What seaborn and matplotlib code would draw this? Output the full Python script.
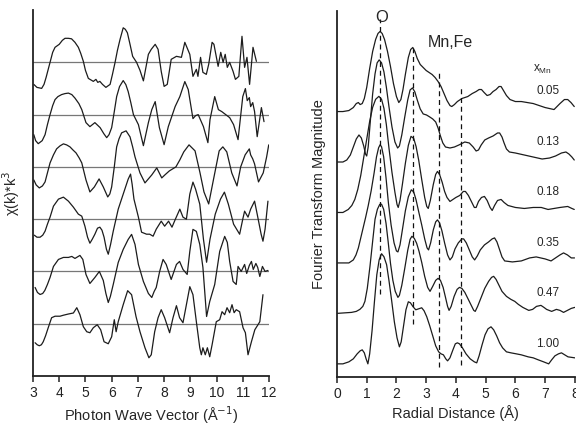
import numpy as np
import pandas as pd
import seaborn as sns
import matplotlib.pyplot as plt

# Mn fraction of each sample, top trace first
x_mn = ["0.05", "0.13", "0.18", "0.35", "0.47", "1.00"]

# chi(k)*k^3 traces, (k, amplitude) pairs, arbitrary units
chi_005 = [(3.03,-22),(3.15,-25),(3.33,-26),(3.42,-22),(3.5,-15),(3.65,0),(3.75,10),(3.84,15),(4.0,18),(4.12,22),
           (4.22,24),(4.35,24),(4.47,23.5),(4.6,20),(4.73,15),(4.82,9),(4.92,1),(5.0,-8),(5.11,-16),(5.3,-19),
           (5.4,-17),(5.47,-20),(5.55,-19),(5.65,-22),(5.78,-25),(5.94,-22),(6.03,-12),(6.13,0),(6.22,12),
           (6.32,23),(6.44,34.5),(6.52,33),(6.6,29.5),(6.7,18),(6.8,6),(6.95,0),(7.08,-8),(7.21,-18.5),(7.4,8),
           (7.51,13),(7.66,18),(7.77,13),(7.89,-9),(8.0,-24),(8.12,-22),(8.27,3),(8.47,6),(8.66,5),(8.79,20),
           (8.98,8),(9.1,-14),(9.23,-7),(9.29,-14),(9.39,5),(9.48,-10),(9.61,-12),(9.7,-2),(9.83,20),(9.9,18),
           (10.06,-4),(10.16,10),(10.25,0),(10.33,8),(10.41,-5),(10.5,0),(10.63,-9),(10.72,-17),(10.85,-14),
           (10.97,26),(11.07,-5),(11.16,5),(11.26,-22),(11.39,15),(11.52,1)]
chi_013 = [(3.03,-20),(3.1,-26),(3.2,-29),(3.35,-26),(3.46,-20),(3.55,-10),(3.65,0),(3.75,9),(3.84,15),(3.95,18),
           (4.09,20),(4.22,21),(4.35,21.5),(4.48,20),(4.6,16.5),(4.75,11),(4.86,5),(5.02,-8),(5.17,-12),(5.36,-8),
           (5.56,-13),(5.7,-19),(5.81,-23),(5.9,-20),(6.0,-13),(6.1,3),(6.19,18),(6.3,28),(6.44,34),(6.54,30),
           (6.63,23),(6.73,12),(6.83,0),(7.02,-10),(7.21,-31),(7.4,-8),(7.53,5),(7.66,13),(7.82,-13),(8.0,-30),
           (8.16,-12),(8.42,8),(8.6,18),(8.79,33),(8.92,25),(9.1,-4),(9.2,-1),(9.3,0),(9.5,-12),(9.67,-28),
           (9.75,-5),(9.93,18),(10.07,5),(10.2,3),(10.35,0),(10.5,-3),(10.65,-10),(10.82,-25),(11.0,18),
           (11.1,26),(11.17,14),(11.25,17),(11.3,8),(11.38,12),(11.45,3),(11.55,-22),(11.71,7),(11.81,-7)]
chi_018 = [(3.03,-13),(3.12,-18),(3.24,-21),(3.36,-19),(3.46,-15),(3.55,-6),(3.65,4),(3.78,12),(3.9,18),(4.03,21),
           (4.16,23),(4.28,22),(4.41,20),(4.52,17),(4.64,14),(4.76,9),(4.86,4),(5.02,-13),(5.17,-25),(5.34,-20),
           (5.52,-12),(5.68,-20),(5.85,-30),(5.93,-27),(6.0,-20),(6.1,0),(6.19,20),(6.28,28),(6.38,34),(6.55,36),
           (6.7,30),(6.8,20),(6.89,10),(7.08,-6),(7.27,-16),(7.53,-8),(7.72,-1),(7.91,-11),(8.03,-8),(8.2,-4),
           (8.45,0),(8.6,7),(8.75,15),(8.95,22),(9.18,16),(9.37,-6),(9.52,-25),(9.7,-37),(9.88,-13),(10.1,16),
           (10.24,20),(10.39,15),(10.58,-6),(10.78,-19),(10.92,0),(11.09,12),(11.25,18),(11.3,12),(11.38,8),
           (11.45,3),(11.6,-15),(11.78,-6),(11.91,10),(11.99,22)]
chi_035 = [(3.05,-16),(3.15,-18),(3.27,-18),(3.37,-16),(3.46,-12),(3.55,-5),(3.65,2),(3.78,13),(3.97,20),(4.16,22),
           (4.35,18),(4.54,12),(4.73,5),(4.86,3),(4.98,-7),(5.08,-18),(5.17,-24),(5.26,-20),(5.36,-15),(5.46,-9),
           (5.55,-8),(5.63,-11),(5.71,-18),(5.8,-30),(5.87,-35),(5.96,-25),(6.06,-12),(6.25,10),(6.44,25),
           (6.63,40),(6.72,45),(6.78,35),(6.85,20),(7.02,2),(7.14,-13),(7.33,-15),(7.45,-15),(7.58,-17),(7.7,-10),
           (7.89,-2),(8.02,-7),(8.17,-2),(8.3,-8),(8.43,0),(8.6,10),(8.72,2),(8.85,0),(8.98,25),(9.1,37),
           (9.2,30),(9.36,15),(9.5,-20),(9.62,-43),(9.75,-20),(9.95,5),(10.15,20),(10.3,27),(10.45,15),
           (10.65,-5),(10.88,-15),(11.0,0),(11.07,8),(11.2,2),(11.3,10),(11.45,18),(11.55,5),(11.7,-15),
           (11.77,-22),(11.85,-10),(11.96,18)]
chi_047 = [(3.08,-16),(3.17,-21),(3.27,-23),(3.37,-22),(3.45,-19),(3.55,-13),(3.65,-6),(3.78,5),(3.97,12),
           (4.16,14),(4.35,14),(4.48,15),(4.6,13),(4.79,16),(4.9,12),(5.02,-3),(5.17,-12),(5.36,-6),(5.53,0),
           (5.68,-9),(5.78,-22),(5.87,-31),(5.95,-25),(6.06,-13),(6.25,9),(6.44,22),(6.63,32),(6.76,37),
           (6.89,27),(7.02,7),(7.21,-10),(7.4,-22),(7.53,-26),(7.62,-20),(7.7,-16),(7.83,0),(7.96,12),(8.08,7),
           (8.27,-8),(8.47,7),(8.59,10),(8.72,2),(8.88,-3),(8.98,20),(9.1,42),(9.23,40),(9.36,27),(9.48,4),
           (9.62,-45),(9.74,-30),(9.93,-13),(10.12,20),(10.31,35),(10.41,29),(10.5,10),(10.63,-10),(10.75,-13),
           (10.82,5),(10.94,0),(11.07,7),(11.15,-2),(11.25,6),(11.33,10),(11.4,2),(11.5,8),(11.57,4),(11.65,-5),
           (11.75,5),(11.85,0),(11.96,1)]
chi_100 = [(3.08,-19),(3.16,-21),(3.24,-22),(3.32,-21),(3.39,-18),(3.48,-12),(3.58,-4),(3.71,6),(3.84,7.5),
           (4.03,7.5),(4.16,8.5),(4.35,9.7),(4.54,10.7),(4.67,16),(4.79,9),(4.92,-3),(5.05,-8),(5.17,-9),
           (5.3,-4),(5.45,-1),(5.58,-6),(5.71,-18),(5.87,-20),(6.0,-13),(6.1,4),(6.17,-8),(6.25,2),(6.44,19),
           (6.61,33),(6.76,29),(6.93,7),(7.08,-8),(7.27,-24),(7.42,-34),(7.51,-31),(7.64,-8),(7.77,6),(7.89,14),
           (8.02,6),(8.21,-9),(8.34,6),(8.47,18),(8.59,6),(8.72,1),(8.85,19),(8.98,37),(9.1,29),(9.23,2),
           (9.36,-24),(9.42,-31),(9.48,-24),(9.57,-31),(9.65,-24),(9.74,-33),(9.83,-21),(9.99,2),(10.12,4),
           (10.21,12),(10.31,9),(10.4,16),(10.5,11),(10.59,19),(10.67,11),(10.75,14),(10.88,12),(11.01,-4),
           (11.1,-9),(11.2,-31),(11.33,-18),(11.46,-6),(11.58,-1),(11.65,2),(11.77,29)]

# Fourier transform magnitude, (R, magnitude) pairs, arbitrary units
ft_005 = [(0,0),(0.2,0),(0.4,1),(0.55,4),(0.65,8),(0.72,9),(0.78,7),(0.85,8),(0.92,13),(1.0,24),(1.1,43),(1.2,60),
          (1.3,72),(1.38,78),(1.45,80),(1.52,78),(1.6,72),(1.7,60),(1.8,45),(1.9,28),(2.0,15),(2.08,9),(2.15,12),
          (2.22,22),(2.3,37),(2.4,54),(2.48,62),(2.55,64),(2.62,60),(2.7,53),(2.8,47),(2.9,44),(3.0,41),(3.1,39),
          (3.2,37),(3.3,34),(3.4,30),(3.5,25),(3.6,18),(3.7,11),(3.8,6),(3.86,5),(3.95,7),(4.05,10),(4.2,13),
          (4.4,15),(4.55,18),(4.68,20),(4.78,22),(4.86,22),(4.95,19),(5.05,16),(5.15,17),(5.25,20),(5.35,22),
          (5.45,25),(5.52,25),(5.6,21),(5.7,16),(5.82,12),(6.0,10),(6.2,10),(6.4,9),(6.6,8),(6.8,6),(7.0,4),
          (7.15,3),(7.3,2),(7.4,5),(7.5,8),(7.65,12),(7.76,12),(7.87,9),(7.98,5)]
ft_013 = [(0,0),(0.2,0),(0.33,2),(0.45,7),(0.55,15),(0.65,23),(0.74,27),(0.82,24),(0.9,16),(0.96,8),(1.0,6),
          (1.05,15),(1.12,40),(1.2,68),(1.28,88),(1.35,99),(1.42,102),(1.5,99),(1.58,90),(1.66,75),(1.75,55),
          (1.85,35),(1.95,20),(2.04,14),(2.1,16),(2.18,27),(2.28,45),(2.38,62),(2.46,72),(2.54,74),(2.62,70),
          (2.7,62),(2.8,53),(2.9,48),(3.01,47),(3.12,45),(3.22,43),(3.32,40),(3.4,34),(3.48,26),(3.56,19),
          (3.65,15),(3.8,14),(3.95,15),(4.1,17),(4.3,20),(4.45,19),(4.58,15),(4.68,11),(4.76,12),(4.85,17),
          (4.97,22),(5.1,24),(5.25,26),(5.4,29),(5.47,29),(5.55,25),(5.62,19),(5.7,13),(5.8,10),(6.0,9),
          (6.3,7),(6.6,5),(6.9,3),(7.15,4),(7.35,6),(7.55,9),(7.7,10),(7.8,8),(7.9,5),(7.98,2)]
ft_018 = [(0,0),(0.2,0),(0.38,3),(0.5,7),(0.6,13),(0.7,23),(0.8,37),(0.9,55),(1.0,73),(1.1,91),(1.2,105),
          (1.3,113),(1.41,116),(1.5,113),(1.58,104),(1.66,88),(1.75,64),(1.85,40),(1.95,20),(2.02,8),(2.06,5),
          (2.12,12),(2.2,28),(2.3,49),(2.4,67),(2.49,76),(2.58,74),(2.66,66),(2.75,52),(2.85,33),(2.95,15),
          (3.02,6),(3.07,4),(3.14,12),(3.24,28),(3.32,38),(3.38,41),(3.45,38),(3.54,30),(3.62,21),(3.7,15),
          (3.8,11),(3.9,13),(4.0,15),(4.13,17),(4.25,21),(4.32,21),(4.42,17),(4.52,11),(4.62,5),(4.68,5),
          (4.76,11),(4.86,15),(4.96,16),(5.05,12),(5.15,5),(5.22,2),(5.3,7),(5.4,12),(5.52,13),(5.62,10),
          (5.75,7),(6.0,5),(6.3,4),(6.6,5),(6.87,5),(7.1,3),(7.3,4),(7.5,5),(7.76,6),(7.9,4),(7.98,3)]
ft_035 = [(0,0),(0.4,0),(0.55,3),(0.64,8),(0.72,15),(0.8,25),(0.88,35),(0.96,45),(1.05,57),(1.15,72),(1.25,90),
          (1.33,106),(1.4,115),(1.45,118),(1.5,116),(1.57,106),(1.65,85),(1.73,60),(1.82,38),(1.92,20),(2.0,12),
          (2.05,11),(2.12,18),(2.2,33),(2.3,52),(2.4,66),(2.5,73),(2.58,71),(2.66,63),(2.75,51),(2.85,38),
          (2.95,24),(3.03,15),(3.08,13),(3.15,20),(3.24,33),(3.32,41),(3.38,43),(3.45,40),(3.53,32),(3.62,20),
          (3.72,8),(3.8,3),(3.88,6),(3.97,14),(4.08,20),(4.2,24),(4.26,24),(4.35,20),(4.45,13),(4.55,6),
          (4.63,3),(4.72,7),(4.82,13),(4.96,18),(5.1,21),(5.22,24),(5.3,25),(5.38,21),(5.46,14),(5.55,6),
          (5.64,2),(5.9,1),(6.2,2),(6.48,5),(6.7,6),(6.85,5),(7.0,4),(7.2,2),(7.35,5),(7.5,8),(7.62,10),
          (7.75,8),(7.88,5),(7.99,5)]
ft_047 = [(0,0),(0.49,1),(0.65,2),(0.77,4),(0.87,7),(0.94,12),(1.02,25),(1.11,47),(1.2,72),(1.28,94),(1.36,104),
          (1.44,109),(1.5,109),(1.57,104),(1.65,90),(1.72,72),(1.8,50),(1.88,33),(1.96,22),(2.05,16),(2.1,18),
          (2.18,28),(2.28,45),(2.38,63),(2.46,74),(2.52,77),(2.6,75),(2.68,70),(2.76,62),(2.85,51),(2.95,37),
          (3.05,26),(3.13,22),(3.22,27),(3.32,33),(3.4,35),(3.48,33),(3.57,26),(3.65,16),(3.72,7),(3.77,3),
          (3.84,7),(3.94,17),(4.04,24),(4.12,26),(4.2,25),(4.3,21),(4.4,15),(4.5,9),(4.6,3),(4.65,2),(4.73,7),
          (4.85,16),(4.97,25),(5.1,32),(5.2,36),(5.27,37),(5.35,34),(5.45,28),(5.55,22),(5.7,17),(5.85,14),
          (5.98,12),(6.1,9),(6.25,6),(6.45,3),(6.58,4),(6.71,7),(6.86,8),(6.96,6),(7.05,4),(7.22,2),(7.38,4),
          (7.5,3),(7.62,1),(7.75,3),(7.88,5),(8.0,6)]
ft_100 = [(0,0),(0.2,0),(0.4,2),(0.55,5),(0.68,10),(0.78,13),(0.85,14),(0.92,11),(0.98,5),(1.04,0),(1.1,10),
          (1.18,33),(1.26,62),(1.34,89),(1.42,104),(1.5,110),(1.58,107),(1.67,99),(1.75,83),(1.84,63),(1.93,42),
          (2.02,26),(2.1,17),(2.16,22),(2.24,38),(2.32,54),(2.4,62),(2.47,61),(2.56,57),(2.65,54),(2.75,55),
          (2.85,56),(2.93,53),(3.02,47),(3.12,38),(3.22,28),(3.32,18),(3.42,12),(3.5,10),(3.58,9),(3.66,5),
          (3.72,3),(3.8,6),(3.9,14),(3.98,20),(4.05,21),(4.12,20),(4.22,16),(4.34,10),(4.48,5),(4.62,2),(4.7,1),
          (4.78,8),(4.88,19),(4.98,29),(5.08,35),(5.18,37),(5.27,34),(5.37,28),(5.47,21),(5.57,16),(5.7,12),
          (5.85,11),(6.03,10),(6.2,9),(6.43,7),(6.6,6),(6.77,4),(6.95,2),(7.12,0),(7.22,4),(7.33,8),(7.45,10),
          (7.55,11),(7.66,9),(7.77,7),(8.0,6)]

chi_traces = [chi_005, chi_013, chi_018, chi_035, chi_047, chi_100]
ft_traces = [ft_005, ft_013, ft_018, ft_035, ft_047, ft_100]
shell_r = [1.45, 2.55, 3.44, 4.16]   # O, Mn/Fe and outer shells

sns.set_style("ticks")
plt.rcParams['font.family'] = ['Liberation Sans', 'DejaVu Sans']

fig = plt.figure(figsize=(5.76, 4.25), dpi=100)
ax1 = fig.add_axes([0.0573, 0.1153, 0.4097, 0.861])
ax2 = fig.add_axes([0.585, 0.113, 0.413, 0.862])

line_col = "#1c1c1c"

# left: stacked chi(k) with a zero line under each trace
for i, tr in enumerate(chi_traces):
    off = 6 - i
    df = pd.DataFrame(tr, columns=["k", "chi"])
    df["chi"] = off + df["chi"] / 52.2
    ax1.axhline(off, color="#777777", lw=0.9, zorder=1)
    sns.lineplot(data=df, x="k", y="chi", ax=ax1, color=line_col, lw=0.9,
                 estimator=None, sort=False, zorder=2)

ax1.set_xlim(3, 12)
ax1.set_ylim(0, 7.0)
ax1.set_xticks(range(3, 13))
ax1.set_yticks([])
ax1.set_xlabel("Photon Wave Vector (Å$^{-1}$)", fontsize=10.5, labelpad=3)
ax1.set_ylabel("χ(k)*k$^3$", fontsize=10.5)
ax1.yaxis.set_label_coords(-0.048, 0.5)

# right: stacked FT magnitudes
for i, tr in enumerate(ft_traces):
    off = 5 - i
    df = pd.DataFrame(tr, columns=["r", "ft"])
    df["ft"] = off + df["ft"] / 50.4
    sns.lineplot(data=df, x="r", y="ft", ax=ax2, color=line_col, lw=0.9,
                 estimator=None, sort=False, zorder=2)
    ax2.text(7.1, off + 0.4, x_mn[i], fontsize=8.5, ha="center", va="center")

tops = [6.83, 6.25, 5.79, 5.5]
bots = [1.39, 0.79, -0.06, -0.02]
for r, t, b in zip(shell_r, tops, bots):
    ax2.plot([r, r], [b, t], color="#111111", lw=0.9, ls=(0, (4, 3)), zorder=3)

ax2.text(1.52, 6.86, "O", fontsize=12, ha="center", va="center")
ax2.text(3.8, 6.37, "Mn,Fe", fontsize=11.5, ha="center", va="center")
ax2.text(6.92, 5.83, "x$_{\\mathregular{Mn}}$", fontsize=8.5, ha="center", va="center")

ax2.set_xlim(0, 8)
ax2.set_ylim(-0.26, 7.0)
ax2.set_xticks(range(0, 9))
ax2.set_yticks([])
ax2.set_xlabel("Radial Distance (Å)", fontsize=10.5, labelpad=3)
ax2.set_ylabel("Fourier Transform Magnitude", fontsize=10.5)
ax2.yaxis.set_label_coords(-0.047, 0.5)

for ax in (ax1, ax2):
    sns.despine(ax=ax)
    ax.spines["left"].set_linewidth(1.3)
    ax.spines["bottom"].set_linewidth(1.3)
    ax.spines["left"].set_color("#222222")
    ax.spines["bottom"].set_color("#222222")
    ax.tick_params(axis="x", direction="out", length=4, width=1.1, labelsize=10, pad=3, colors="#222222")

fig.savefig("out.png", dpi=100)
